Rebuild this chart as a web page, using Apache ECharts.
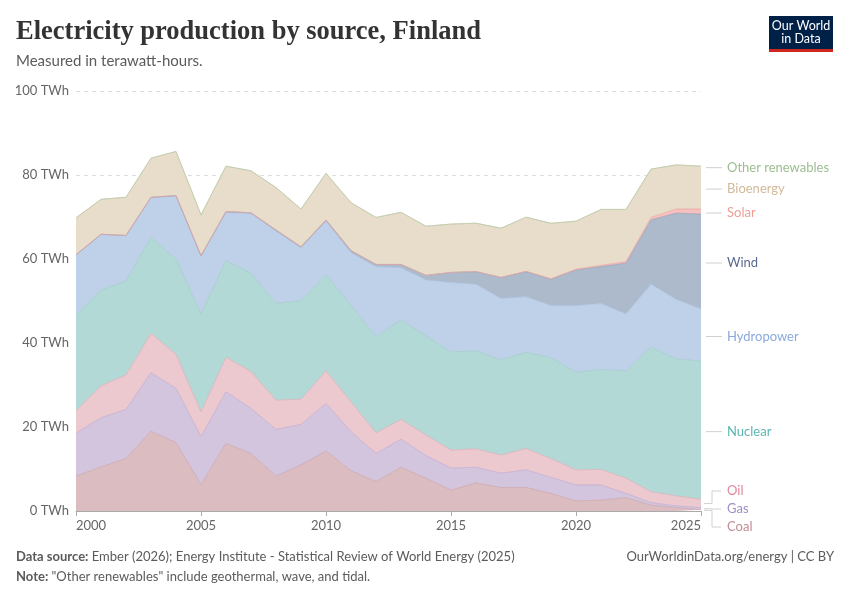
<!DOCTYPE html>
<html>
<head>
<meta charset="utf-8">
<script src="https://cdn.jsdelivr.net/npm/echarts@6/dist/echarts.min.js"></script>
<style>
  html, body { margin: 0; padding: 0; background: #fff; }
  #chart { width: 850px; height: 600px; }
</style>
</head>
<body>
<div id="chart"></div>
<script>
// data, TWh per year
const years = [2000, 2001, 2002, 2003, 2004, 2005, 2006, 2007, 2008, 2009, 2010, 2011, 2012,
  2013, 2014, 2015, 2016, 2017, 2018, 2019, 2020, 2021, 2022, 2023, 2024, 2025];

const coal = [8.3, 10.5, 12.5, 19.0, 16.3, 6.3, 16.1, 13.7, 8.3, 11.0, 14.3, 9.6, 7.0,
  10.4, 7.8, 5.0, 6.7, 5.6, 5.6, 4.2, 2.4, 2.6, 3.2, 1.4, 0.8, 0.3];
const gas = [10.2, 11.7, 11.7, 13.9, 12.9, 11.4, 12.3, 10.7, 11.1, 9.6, 11.3, 9.3, 6.7,
  6.7, 5.4, 5.2, 3.7, 3.4, 4.2, 3.8, 3.8, 3.6, 1.0, 0.6, 0.4, 0.5];
const oil = [5.4, 7.6, 8.2, 9.4, 8.1, 5.9, 8.2, 8.8, 7.0, 6.0, 7.8, 7.1, 4.9,
  4.7, 4.9, 4.3, 4.4, 4.3, 5.1, 4.5, 3.6, 3.7, 3.6, 2.6, 2.4, 2.0];
const nuclear = [22.8, 22.8, 22.4, 22.8, 22.7, 23.3, 23.0, 23.4, 23.0, 23.5, 22.8, 23.0, 22.9,
  23.7, 23.6, 23.4, 23.3, 22.7, 22.9, 24.0, 23.2, 23.8, 25.5, 34.4, 32.6, 32.9];
const hydro = [14.2, 13.2, 10.7, 9.5, 15.0, 13.7, 11.5, 14.2, 17.2, 12.5, 12.8, 12.5, 16.7,
  12.4, 13.3, 16.5, 15.9, 14.6, 13.2, 12.4, 15.9, 15.7, 13.6, 15.0, 14.2, 12.4];
const wind = [0.1, 0.1, 0.1, 0.1, 0.1, 0.2, 0.2, 0.2, 0.3, 0.3, 0.3, 0.5, 0.5,
  0.8, 1.1, 2.4, 3.0, 5.0, 6.0, 6.3, 8.5, 8.8, 12.1, 15.3, 20.5, 22.6];
const solar = [0, 0, 0, 0, 0, 0, 0, 0, 0, 0, 0, 0, 0,
  0, 0, 0.01, 0.02, 0.03, 0.05, 0.1, 0.2, 0.3, 0.4, 0.6, 1.0, 1.2];
const bioenergy = [8.8, 8.3, 9.1, 9.3, 10.5, 9.7, 10.8, 10.0, 10.1, 9.0, 11.1, 11.4, 11.2,
  12.4, 11.7, 11.5, 11.5, 11.7, 12.9, 13.2, 11.4, 13.3, 12.4, 11.5, 10.5, 10.2];
const otherRenewables = [0.01, 0.01, 0.01, 0.01, 0.01, 0.01, 0.01, 0.01, 0.01, 0.01, 0.01, 0.01, 0.01,
  0.01, 0.01, 0.01, 0.01, 0.01, 0.01, 0.01, 0.01, 0.01, 0.01, 0.01, 0.01, 0.01];

const yTicks = [0, 20, 40, 60, 80, 100];

// bottom to top
const sources = [
  { name: 'Coal', values: coal, fill: '#dbbdc1', line: '#c9a2a8', text: '#c28c94' },
  { name: 'Gas', values: gas, fill: '#d4c5df', line: '#bba8cf', text: '#a08cc6' },
  { name: 'Oil', values: oil, fill: '#ecc8cf', line: '#dcaab5', text: '#e0879a' },
  { name: 'Nuclear', values: nuclear, fill: '#b2d9d6', line: '#9ccac6', text: '#5db5ae' },
  { name: 'Hydropower', values: hydro, fill: '#bfd1e9', line: '#a9c0df', text: '#8aa9dc' },
  { name: 'Wind', values: wind, fill: '#adbacb', line: '#8e9cb3', text: '#5b6b8f' },
  { name: 'Solar', values: solar, fill: '#f5c0bd', line: '#eda5a1', text: '#ef9d95' },
  { name: 'Bioenergy', values: bioenergy, fill: '#e8dccb', line: '#d6c6ae', text: '#d3b999' },
  { name: 'Other renewables', values: otherRenewables, fill: '#cfe0c8', line: '#b5cfaa', text: '#9dbd92' }
];

const chart = echarts.init(document.getElementById('chart'));

const font = 'Lato, "Noto Sans", sans-serif';

const option = {
  animation: false,
  grid: { left: 76, right: 149, top: 91, bottom: 89 },
  xAxis: {
    type: 'category',
    data: years.map(String),
    boundaryGap: false,
    axisLine: { show: true, lineStyle: { color: '#aaa' } },
    axisTick: { show: true, length: 5, interval: 4, lineStyle: { color: '#aaa' } },
    axisLabel: {
      color: '#666', fontFamily: font, fontSize: 13, margin: 8, interval: 4,
      alignMinLabel: 'left', alignMaxLabel: 'right'
    }
  },
  yAxis: {
    type: 'value',
    min: yTicks[0],
    max: yTicks[yTicks.length - 1],
    interval: 20,
    axisLine: { show: false },
    axisTick: { show: false },
    splitLine: { lineStyle: { color: '#ddd', type: [4, 4] } },
    axisLabel: { color: '#666', fontFamily: font, fontSize: 13, margin: 7, formatter: '{value} TWh' }
  },
  series: sources.map(s => ({
    name: s.name,
    type: 'line',
    stack: 'total',
    symbol: 'none',
    data: s.values,
    lineStyle: { width: 0.7, color: s.line },
    areaStyle: { color: s.fill, opacity: 1 }
  }))
};

chart.setOption(option);

// right-hand labels, placed at the middle of each band in the last year and pushed apart
function buildGraphics() {
  const last = years.length - 1;
  const spacing = 18;
  let cum = 0;
  const items = sources.map(s => {
    const v = s.values[last];
    const mid = cum + v / 2;
    cum += v;
    const py = chart.convertToPixel({ gridIndex: 0 }, [last, mid])[1];
    return { s, target: py, y: py };
  });
  items.sort((a, b) => a.target - b.target);

  let groups = items.map(it => ({ items: [it] }));
  let merged = true;
  while (merged) {
    merged = false;
    groups.forEach(g => {
      const mean = g.items.reduce((a, it) => a + it.target, 0) / g.items.length;
      const n = g.items.length;
      g.items.forEach((it, k) => { it.y = mean + spacing * (k - (n - 1) / 2); });
    });
    for (let i = 1; i < groups.length; i++) {
      const prev = groups[i - 1], cur = groups[i];
      if (cur.items[0].y - prev.items[prev.items.length - 1].y < spacing) {
        prev.items = prev.items.concat(cur.items);
        groups.splice(i, 1);
        merged = true;
        break;
      }
    }
  }

  const xEnd = chart.convertToPixel({ gridIndex: 0 }, [last, 0])[0];
  const g = [];
  items.forEach(it => {
    const moved = Math.abs(it.y - it.target) > 1;
    const ly = it.y + 1.5;
    g.push({
      type: 'polyline',
      shape: {
        points: moved
          ? [[xEnd + 3, it.target], [xEnd + 11, it.target], [xEnd + 11, ly], [xEnd + 20, ly]]
          : [[xEnd + 5, ly], [xEnd + 21, ly]]
      },
      style: { stroke: '#d0d0d0', lineWidth: 1, fill: null },
      silent: true
    });
    g.push({
      type: 'text',
      x: xEnd + 26,
      y: ly,
      style: { text: it.s.name, fill: it.s.text, font: '13px ' + font, verticalAlign: 'middle' },
      silent: true
    });
  });

  // header
  g.push(
    {
      type: 'text', x: 16, y: 32,
      style: { text: 'Electricity production by source, Finland', fill: '#333', font: 'bold 26.5px "Liberation Serif", serif', verticalAlign: 'middle' }
    },
    {
      type: 'text', x: 16, y: 61,
      style: { text: 'Measured in terawatt-hours.', fill: '#5b5b5b', font: '15px ' + font, verticalAlign: 'middle' }
    }
  );

  // logo
  g.push(
    { type: 'rect', shape: { x: 769, y: 16, width: 64, height: 36 }, style: { fill: '#002147' } },
    { type: 'rect', shape: { x: 769, y: 49, width: 64, height: 3 }, style: { fill: '#ce261e' } },
    { type: 'text', x: 801, y: 26, style: { text: 'Our World', fill: '#fff', font: '12.5px ' + font, align: 'center', verticalAlign: 'middle' } },
    { type: 'text', x: 801, y: 39, style: { text: 'in Data', fill: '#fff', font: '12.5px ' + font, align: 'center', verticalAlign: 'middle' } }
  );

  // footer
  const rich = { b: { fontWeight: 'bold', fill: '#5b5b5b', fontSize: 13, fontFamily: font } };
  g.push(
    {
      type: 'text', x: 16, y: 557,
      style: {
        text: '{b|Data source:} Ember (2026); Energy Institute - Statistical Review of World Energy (2025)',
        fill: '#5b5b5b', font: '13px ' + font, verticalAlign: 'middle', rich
      }
    },
    {
      type: 'text', x: 16, y: 577,
      style: {
        text: '{b|Note:} "Other renewables" include geothermal, wave, and tidal.',
        fill: '#5b5b5b', font: '13px ' + font, verticalAlign: 'middle', rich
      }
    },
    {
      type: 'text', x: 834, y: 557,
      style: { text: 'OurWorldinData.org/energy | CC BY', fill: '#5b5b5b', font: '13px ' + font, align: 'right', verticalAlign: 'middle' }
    }
  );
  return g;
}

chart.setOption({ graphic: buildGraphics() });
</script>
</body>
</html>
